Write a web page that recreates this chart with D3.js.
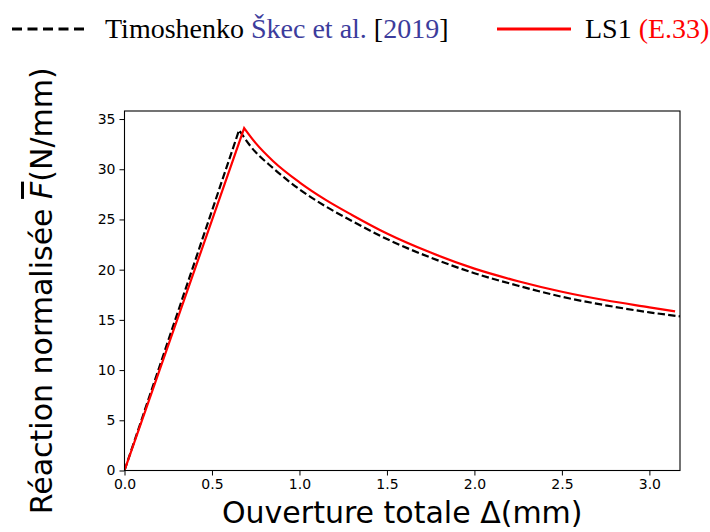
<!DOCTYPE html>
<html><head><meta charset="utf-8">
<script src="https://cdn.jsdelivr.net/npm/d3@7"></script>
<style>body{margin:0;background:#fff}svg{display:block}</style>
</head><body>
<svg id="c" width="710" height="532"></svg>
<script>
// Data
const timoX = [0, 0.655, 0.72, 0.85, 1.0, 1.15, 1.3, 1.5, 1.75, 2.0, 2.25, 2.5, 2.75, 3.0, 3.175];
const timoY = [0, 33.9, 32.3, 30.1, 28.0, 26.3, 24.85, 23.05, 21.2, 19.65, 18.4, 17.3, 16.45, 15.75, 15.35];
const ls1X  = [0, 0.684, 0.75, 0.85, 1.0, 1.15, 1.3, 1.5, 1.75, 2.0, 2.25, 2.5, 2.75, 3.0, 3.147];
const ls1Y  = [0, 34.1, 32.6, 30.8, 28.7, 26.95, 25.45, 23.6, 21.7, 20.1, 18.85, 17.8, 16.95, 16.25, 15.84];
const xTicks = [0, 0.5, 1.0, 1.5, 2.0, 2.5, 3.0];
const yTicks = [0, 5, 10, 15, 20, 25, 30, 35];

const svg = d3.select("#c");
const L = 124.5, R = 680, T = 111, B = 470.5;
const x = d3.scaleLinear().domain([0, 3.175]).range([L, R]);
const y = d3.scaleLinear().domain([0, 35.8]).range([B, T]);

const mk = (xs, ys) => xs.map((v, i) => [v, ys[i]]);
function pathFor(xs, ys) {
  const pts = mk(xs, ys);
  const rise = d3.line().x(d => x(d[0])).y(d => y(d[1]))(pts.slice(0, 2));
  const fall = d3.line().x(d => x(d[0])).y(d => y(d[1])).curve(d3.curveMonotoneX)(pts.slice(1));
  return rise + "L" + fall.slice(1);
}

const g = svg.append("g");
g.append("defs").append("clipPath").attr("id", "clip")
  .append("rect").attr("x", L).attr("y", T).attr("width", R - L).attr("height", B - T);

g.append("path").attr("d", pathFor(timoX, timoY)).attr("fill", "none")
  .attr("stroke", "#000").attr("stroke-width", 2.2).attr("stroke-dasharray", "7.4,3.2")
  .attr("clip-path", "url(#clip)");
g.append("path").attr("d", pathFor(ls1X, ls1Y)).attr("fill", "none")
  .attr("stroke", "#ff0000").attr("stroke-width", 2.2)
  .attr("clip-path", "url(#clip)");

// axes
const xa = g.append("g").attr("transform", `translate(0,${B})`)
  .call(d3.axisBottom(x).tickValues(xTicks).tickFormat(d3.format(".1f")).tickSize(5).tickPadding(4));
const ya = g.append("g").attr("transform", `translate(${L},0)`)
  .call(d3.axisLeft(y).tickValues(yTicks).tickFormat(d3.format("d")).tickSize(5).tickPadding(4));
[xa, ya].forEach(a => {
  a.select(".domain").remove();
  a.selectAll("text").attr("font-family", "DejaVu Sans").attr("font-size", 14).attr("fill", "#000");
  a.selectAll("line").attr("stroke", "#000").attr("stroke-width", 1);
});
g.append("rect").attr("x", L).attr("y", T).attr("width", R - L).attr("height", B - T)
  .attr("fill", "none").attr("stroke", "#000").attr("stroke-width", 1.1);

// axis labels
g.append("text").attr("x", (L + R) / 2).attr("y", 523).attr("text-anchor", "middle")
  .attr("font-family", "DejaVu Sans").attr("font-size", 30).text("Ouverture totale Δ(mm)");
const yl = g.append("text").attr("transform", `translate(52,${(T + B) / 2}) rotate(-90)`)
  .attr("text-anchor", "middle").attr("font-family", "DejaVu Sans").attr("font-size", 30);
yl.append("tspan").text("Réaction normalisée ");
yl.append("tspan").attr("font-style", "italic").attr("text-decoration", "overline").text("F");
yl.append("tspan").text("(N/mm)");

// legend
const lg = svg.append("g").attr("font-family", "Liberation Serif").attr("font-size", 28);
lg.append("line").attr("x1", 12).attr("x2", 84).attr("y1", 29).attr("y2", 29)
  .attr("stroke", "#000").attr("stroke-width", 3).attr("stroke-dasharray", "10,5.5");
const t1 = lg.append("text").attr("x", 105).attr("y", 38);
t1.append("tspan").text("Timoshenko ");
t1.append("tspan").attr("fill", "#3c3c9c").text("Škec et al. ");
t1.append("tspan").text("[");
t1.append("tspan").attr("fill", "#3c3c9c").text("2019");
t1.append("tspan").text("]");
lg.append("line").attr("x1", 497).attr("x2", 571).attr("y1", 29).attr("y2", 29)
  .attr("stroke", "#ff0000").attr("stroke-width", 3);
const t2 = lg.append("text").attr("x", 585).attr("y", 38);
t2.append("tspan").text("LS1 ");
t2.append("tspan").attr("fill", "#ff0000").text("(E.33)");
</script>
</body></html>
